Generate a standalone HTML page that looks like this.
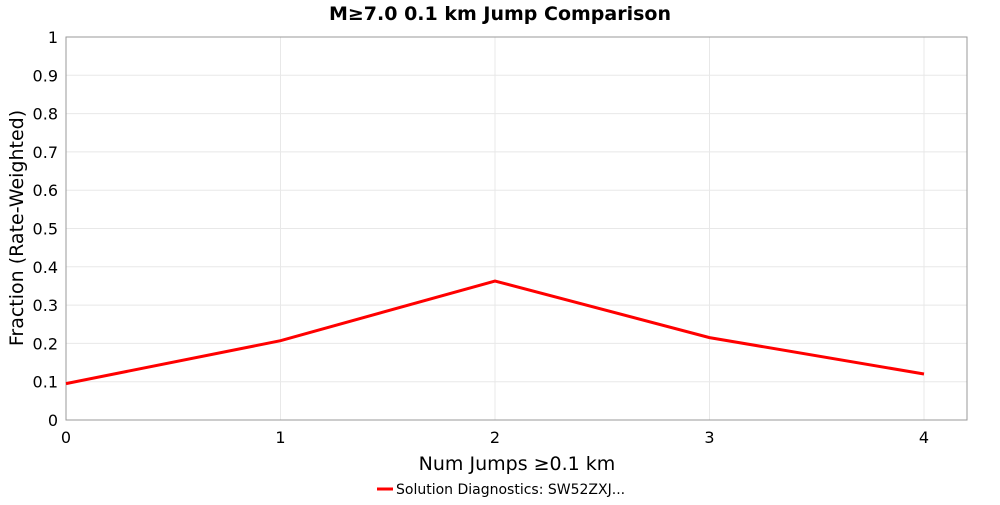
<!DOCTYPE html>
<html><head><style>
body{margin:0;background:#fff;}
svg text{font-family:"DejaVu Sans","Liberation Sans",sans-serif;}
</style></head><body>
<svg width="1000" height="500" xmlns="http://www.w3.org/2000/svg">
<rect width="1000" height="500" fill="#fff"/>
<text x="500" y="20" text-anchor="middle" font-size="19" font-weight="bold">M≥7.0 0.1 km Jump Comparison</text>
<g stroke="#e8e8e8" stroke-width="1">
<line x1="66" x2="967" y1="381.7" y2="381.7"/><line x1="66" x2="967" y1="343.4" y2="343.4"/>
<line x1="66" x2="967" y1="305.1" y2="305.1"/><line x1="66" x2="967" y1="266.8" y2="266.8"/>
<line x1="66" x2="967" y1="228.5" y2="228.5"/><line x1="66" x2="967" y1="190.2" y2="190.2"/>
<line x1="66" x2="967" y1="151.9" y2="151.9"/><line x1="66" x2="967" y1="113.6" y2="113.6"/>
<line x1="66" x2="967" y1="75.3" y2="75.3"/>
<line x1="280.5" x2="280.5" y1="37" y2="420"/><line x1="495" x2="495" y1="37" y2="420"/>
<line x1="709.5" x2="709.5" y1="37" y2="420"/><line x1="924" x2="924" y1="37" y2="420"/>
</g>
<rect x="66" y="37" width="901" height="383" fill="none" stroke="#999" stroke-width="1"/>
<g font-size="16" text-anchor="end">
<text x="58" y="426">0</text><text x="58" y="387.7">0.1</text><text x="58" y="349.4">0.2</text>
<text x="58" y="311.1">0.3</text><text x="58" y="272.8">0.4</text><text x="58" y="234.5">0.5</text>
<text x="58" y="196.2">0.6</text><text x="58" y="157.9">0.7</text><text x="58" y="119.6">0.8</text>
<text x="58" y="81.3">0.9</text><text x="58" y="43">1</text>
</g>
<g font-size="16" text-anchor="middle">
<text x="66" y="443">0</text><text x="280.5" y="443">1</text><text x="495" y="443">2</text>
<text x="709.5" y="443">3</text><text x="924" y="443">4</text>
</g>
<text x="517" y="470" text-anchor="middle" font-size="19">Num Jumps ≥0.1 km</text>
<text transform="translate(23,228) rotate(-90)" text-anchor="middle" font-size="19">Fraction (Rate-Weighted)</text>
<polyline fill="none" stroke="#f00" stroke-width="3" points="66,383.6 280.5,340.7 495,281 709.5,337.6 924,374"/>
<line x1="377" x2="393" y1="489" y2="489" stroke="#f00" stroke-width="3"/>
<text x="396" y="494" font-size="14">Solution Diagnostics: SW52ZXJ...</text>
</svg>
</body></html>
